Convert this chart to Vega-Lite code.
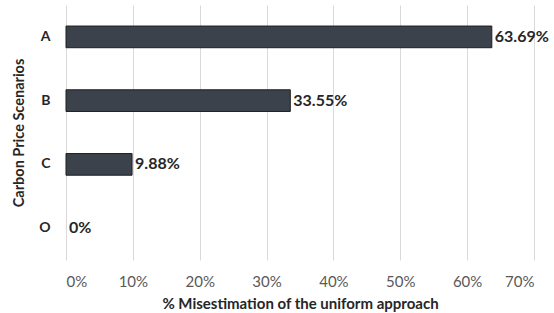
{
  "$schema": "https://vega.github.io/schema/vega-lite/v6.json",
  "width": 468,
  "height": 255,
  "autosize": {"type": "none"},
  "padding": {"left": 66, "top": 5, "right": 20, "bottom": 53},
  "background": "white",
  "config": {"view": {"stroke": null}, "font": "Lato"},
  "data": {"values": [
    {"scenario": "A", "value": 0.6369, "label": "63.69%"},
    {"scenario": "B", "value": 0.3355, "label": "33.55%"},
    {"scenario": "C", "value": 0.0988, "label": "9.88%"},
    {"scenario": "O", "value": 0, "label": "0%"}
  ]},
  "encoding": {
    "y": {
      "field": "scenario", "type": "nominal", "sort": ["A", "B", "C", "O"],
      "scale": {"paddingInner": 0.66, "paddingOuter": 0.33},
      "axis": {
        "title": "Carbon Price Scenarios", "titleFont": "Lato", "titleFontSize": 14.5, "titleFontWeight": "bold", "titleColor": "#262626", "titlePadding": 12,
        "labelFont": "Lato", "labelFontSize": 14, "labelFontWeight": "bold", "labelColor": "#262626", "labelPadding": 16,
        "domain": false, "ticks": false, "grid": false
      }
    },
    "x": {
      "field": "value", "type": "quantitative",
      "scale": {"domain": [0, 0.7], "nice": false},
      "axis": {
        "title": "% Misestimation of the uniform approach", "titleFont": "Lato", "titleFontSize": 15, "titleFontWeight": "bold", "titleColor": "#262626", "titlePadding": 7,
        "format": ".0%", "values": [0, 0.1, 0.2, 0.3, 0.4, 0.5, 0.6, 0.7],
        "labelFont": "Lato", "labelFontSize": 15, "labelColor": "#595959", "labelPadding": 14,
        "domain": false, "ticks": false, "grid": true, "gridColor": "#d9d9d9", "gridWidth": 1
      }
    }
  },
  "layer": [
    {"transform": [{"filter": "datum.value > 0"}],
     "mark": {"type": "bar", "color": "#3b424b", "stroke": "#1f1f1f", "strokeWidth": 1}},
    {"mark": {"type": "text", "align": "left", "dx": 3, "font": "Lato", "fontSize": 16, "fontWeight": "bold", "color": "#262626"},
     "encoding": {"text": {"field": "label"}}}
  ]
}
